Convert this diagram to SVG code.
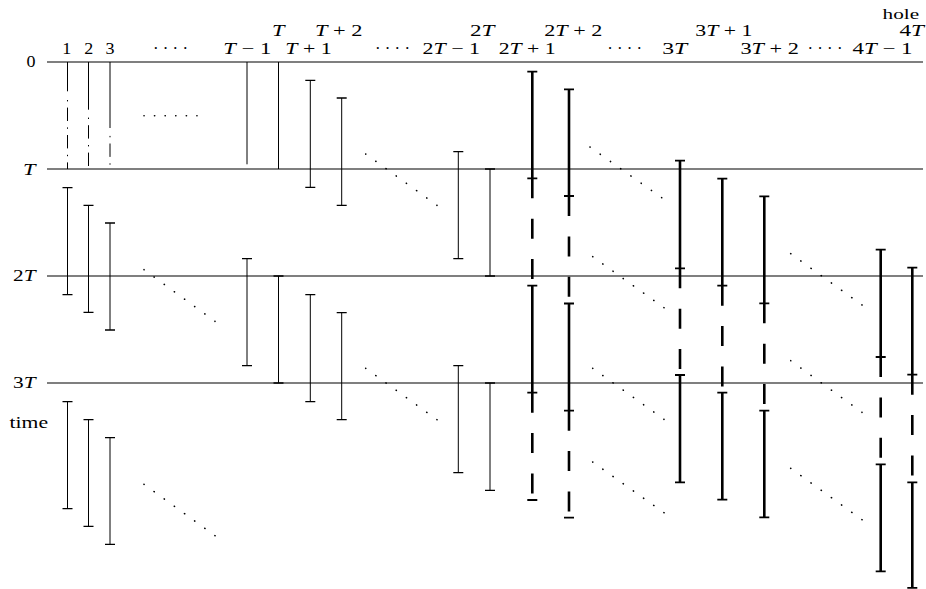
<svg xmlns="http://www.w3.org/2000/svg" width="926" height="589" viewBox="0 0 926 589">
<style>
  .axis{stroke:#000;stroke-width:1.1;fill:none}
  .thin{stroke:#000;stroke-width:1;fill:none}
  .cap{stroke:#000;stroke-width:1.3;fill:none}
  .dd{stroke:#000;stroke-width:1;fill:none;stroke-dasharray:1.4 6.2 13.4 6.4}
  .thick{stroke:#000;stroke-width:2.6;fill:none}
  .tcap{stroke:#000;stroke-width:1.8;fill:none}
  .hole{stroke:#000;stroke-width:2.6;fill:none;stroke-dasharray:20 20.4}
  .dots{stroke:#000;stroke-width:1.6;stroke-linecap:round;fill:none;stroke-dasharray:0.02 0.98;stroke-dashoffset:0.01}
  text{font-family:"Liberation Serif","DejaVu Serif",serif;font-size:17px;fill:#000}
  .m{text-anchor:middle}
  .e{text-anchor:end}
  .i{font-style:italic}
</style>
<rect width="926" height="589" fill="#fff"/>

<g id="time-lines">
  <path class="axis" d="M47 62H923M47 169H923M47 276H923M47 383H923"/>
</g>

<g id="labels">
  <text x="35.5" y="66.7" class="e" textLength="9" lengthAdjust="spacingAndGlyphs">0</text>
  <text x="35.5" y="174.5" class="e" textLength="12.5" lengthAdjust="spacingAndGlyphs"><tspan class="i">T</tspan></text>
  <text x="35.5" y="280.7" class="e" textLength="22.5" lengthAdjust="spacingAndGlyphs">2<tspan class="i">T</tspan></text>
  <text x="35.5" y="387.7" class="e" textLength="22.5" lengthAdjust="spacingAndGlyphs">3<tspan class="i">T</tspan></text>
  <text x="9.5" y="427.7" textLength="38.5" lengthAdjust="spacingAndGlyphs">time</text>

  <text x="66.7" y="54" class="m" textLength="9" lengthAdjust="spacingAndGlyphs">1</text>
  <text x="88.7" y="54" class="m" textLength="9" lengthAdjust="spacingAndGlyphs">2</text>
  <text x="110" y="54" class="m" textLength="9" lengthAdjust="spacingAndGlyphs">3</text>
  <text x="170.5" y="54" class="m" textLength="35" lengthAdjust="spacingAndGlyphs">· · · ·</text>
  <text x="247.3" y="54" class="m" textLength="48" lengthAdjust="spacingAndGlyphs"><tspan class="i">T</tspan> − 1</text>
  <text x="308.5" y="54" class="m" textLength="46.5" lengthAdjust="spacingAndGlyphs"><tspan class="i">T</tspan> + 1</text>
  <text x="392.5" y="54" class="m" textLength="35" lengthAdjust="spacingAndGlyphs">· · · ·</text>
  <text x="451.3" y="54" class="m" textLength="57.5" lengthAdjust="spacingAndGlyphs">2<tspan class="i">T</tspan> − 1</text>
  <text x="527.2" y="54" class="m" textLength="57" lengthAdjust="spacingAndGlyphs">2<tspan class="i">T</tspan> + 1</text>
  <text x="624.7" y="54" class="m" textLength="35" lengthAdjust="spacingAndGlyphs">· · · ·</text>
  <text x="674.7" y="54" class="m" textLength="25" lengthAdjust="spacingAndGlyphs">3<tspan class="i">T</tspan></text>
  <text x="769.7" y="54" class="m" textLength="58.5" lengthAdjust="spacingAndGlyphs">3<tspan class="i">T</tspan> + 2</text>
  <text x="825" y="54" class="m" textLength="35" lengthAdjust="spacingAndGlyphs">· · · ·</text>
  <text x="882.5" y="54" class="m" textLength="60" lengthAdjust="spacingAndGlyphs">4<tspan class="i">T</tspan> − 1</text>

  <text x="278.3" y="36" class="m" textLength="12.5" lengthAdjust="spacingAndGlyphs"><tspan class="i">T</tspan></text>
  <text x="338.8" y="36" class="m" textLength="47.5" lengthAdjust="spacingAndGlyphs"><tspan class="i">T</tspan> + 2</text>
  <text x="482.3" y="36" class="m" textLength="24.5" lengthAdjust="spacingAndGlyphs">2<tspan class="i">T</tspan></text>
  <text x="573.3" y="36" class="m" textLength="58" lengthAdjust="spacingAndGlyphs">2<tspan class="i">T</tspan> + 2</text>
  <text x="723.8" y="36" class="m" textLength="57" lengthAdjust="spacingAndGlyphs">3<tspan class="i">T</tspan> + 1</text>
  <text x="924" y="36" class="e" style="font-size:16px" textLength="24.5" lengthAdjust="spacingAndGlyphs">4<tspan class="i">T</tspan></text>
  <text x="900.8" y="18.5" class="m" style="font-size:14px" textLength="36.5" lengthAdjust="spacingAndGlyphs">hole</text>
</g>

<g id="connectors">
  <g id="col-1">
    <path class="thin" d="M67.5 62V91.3M67.5 187.7V294.7M67.5 401.7V508.7"/>
    <path class="dd" d="M67.5 100V169"/>
    <path class="cap" d="M62.5 187.7h10M62.5 294.7h10M62.5 401.7h10M62.5 508.7h10"/>
  </g>
  <g id="col-2">
    <path class="thin" d="M88.5 62V109.7M88.5 205.3V312.3M88.5 419.7V526.3"/>
    <path class="dd" d="M88.5 117.6V169"/>
    <path class="cap" d="M83.5 205.3h10M83.5 312.3h10M83.5 419.7h10M83.5 526.3h10"/>
  </g>
  <g id="col-3">
    <path class="thin" d="M110 62V128M110 223V330M110 437.7V544.3"/>
    <path class="dd" d="M110 135.9V169"/>
    <path class="cap" d="M105 223h10M105 330h10M105 437.7h10M105 544.3h10"/>
  </g>
  <g id="col-T-1">
    <path class="thin" d="M247 62V164.3M247 258.7V365.7"/>
    <path class="cap" d="M242 258.7h10M242 365.7h10"/>
  </g>
  <g id="col-T">
    <path class="thin" d="M278.5 62V169M278.5 276V383"/>
    <path class="cap" d="M273.5 276h10M273.5 383h10"/>
  </g>
  <g id="col-T+1">
    <path class="thin" d="M310.3 80.3V187.3M310.3 294.7V401.7"/>
    <path class="cap" d="M305.3 80.3h10M305.3 187.3h10M305.3 294.7h10M305.3 401.7h10"/>
  </g>
  <g id="col-T+2">
    <path class="thin" d="M341.7 98V205.3M341.7 312.7V419.7"/>
    <path class="cap" d="M336.7 98h10M336.7 205.3h10M336.7 312.7h10M336.7 419.7h10"/>
  </g>
  <g id="col-2T-1">
    <path class="thin" d="M458.3 151.7V258.7M458.3 365.7V472.7"/>
    <path class="cap" d="M453.3 151.7h10M453.3 258.7h10M453.3 365.7h10M453.3 472.7h10"/>
  </g>
  <g id="col-2T">
    <path class="thin" d="M490 169V276M490 383V490.3"/>
    <path class="cap" d="M485 169h10M485 276h10M485 383h10M485 490.3h10"/>
  </g>

  <g id="col-2T+1">
    <path class="thick" d="M532.3 71.7V178.3M532.3 285.7V392.7"/>
    <path class="hole" d="M532.3 178.3V285.7M532.3 392.7V500"/>
    <path class="tcap" d="M527.3 71.7h10M527.3 178.3h10M527.3 285.7h10M527.3 392.7h10M527.3 500h10"/>
  </g>
  <g id="col-2T+2">
    <path class="thick" d="M569 89.3V196M569 303.5V410.7"/>
    <path class="hole" d="M569 196V303.5M569 410.7V517.7"/>
    <path class="tcap" d="M564 89.3h10M564 196h10M564 303.5h10M564 410.7h10M564 517.7h10"/>
  </g>
  <g id="col-3T">
    <path class="thick" d="M680 160.7V268.3M680 375V482.3"/>
    <path class="hole" d="M680 268.3V375"/>
    <path class="tcap" d="M675 160.7h10M675 268.3h10M675 375h10M675 482.3h10"/>
  </g>
  <g id="col-3T+1">
    <path class="thick" d="M722.3 178.7V285.7M722.3 392.7V499.7"/>
    <path class="hole" d="M722.3 285.7V392.7"/>
    <path class="tcap" d="M717.3 178.7h10M717.3 285.7h10M717.3 392.7h10M717.3 499.7h10"/>
  </g>
  <g id="col-3T+2">
    <path class="thick" d="M764.3 196.3V303.3M764.3 410.7V517.3"/>
    <path class="hole" d="M764.3 303.3V410.7"/>
    <path class="tcap" d="M759.3 196.3h10M759.3 303.3h10M759.3 410.7h10M759.3 517.3h10"/>
  </g>
  <g id="col-4T-1">
    <path class="thick" d="M880.7 249.7V357M880.7 464.3V571.3"/>
    <path class="hole" d="M880.7 357V464.3"/>
    <path class="tcap" d="M875.7 249.7h10M875.7 357h10M875.7 464.3h10M875.7 571.3h10"/>
  </g>
  <g id="col-4T">
    <path class="thick" d="M912.3 267.7V374.7M912.3 482.3V587.8"/>
    <path class="hole" d="M912.3 374.7V482.3"/>
    <path class="tcap" d="M907.3 267.7h10M907.3 374.7h10M907.3 482.3h10M907.3 587.8h10"/>
  </g>

  <g id="ellipses">
    <path class="dots" pathLength="5" d="M144 115.7H197"/>
    <path class="dots" pathLength="7" d="M144 269.7L215 321.3"/>
    <path class="dots" pathLength="7" d="M144 484.3L215 535.7"/>
    <path class="dots" pathLength="7" d="M365.7 154L437 205.3"/>
    <path class="dots" pathLength="7" d="M365.7 368.3L437 419.7"/>
    <path class="dots" pathLength="7" d="M590 147L661.7 197.7"/>
    <path class="dots" pathLength="7" d="M592.7 256.7L664 307.7"/>
    <path class="dots" pathLength="7" d="M592.7 368.3L664 419.3"/>
    <path class="dots" pathLength="7" d="M592.7 462L664 512.7"/>
    <path class="dots" pathLength="7" d="M790.7 253.7L862 305"/>
    <path class="dots" pathLength="7" d="M790.7 360.7L862 412.3"/>
    <path class="dots" pathLength="7" d="M790.7 468.3L862 519.7"/>
  </g>
</g>
</svg>
